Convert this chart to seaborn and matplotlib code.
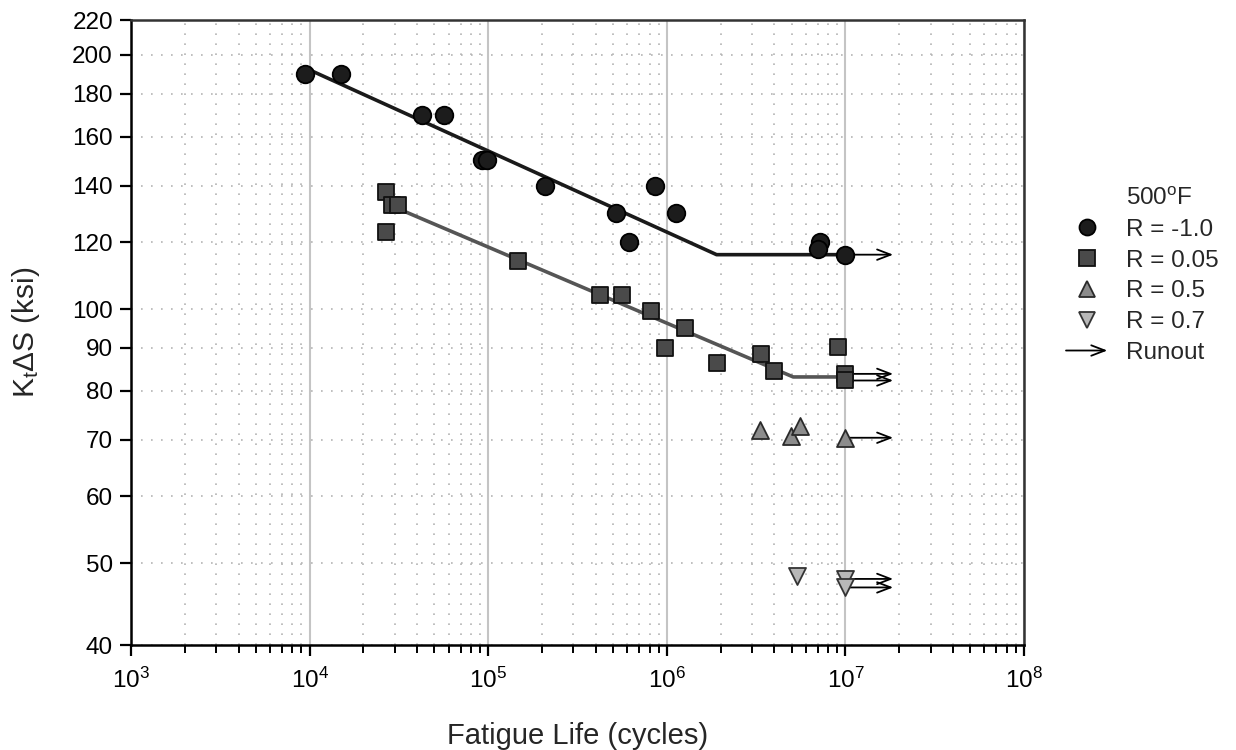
import numpy as np
import pandas as pd
import seaborn as sns
import matplotlib
matplotlib.use('Agg')
import matplotlib.pyplot as plt
from matplotlib.ticker import LogLocator, NullFormatter, NullLocator, FixedLocator, FixedFormatter
from matplotlib.lines import Line2D
from matplotlib.patches import FancyArrowPatch
from matplotlib.legend_handler import HandlerBase

# ---- data (cycles, K_t*dS in ksi, runout flag) ----
r_m10_cycles = [9.4e3, 1.49e4, 4.27e4, 5.66e4, 9.2e4, 9.9e4, 2.09e5, 5.22e5,
                6.14e5, 8.55e5, 1.13e6, 7.2e6, 7.0e6, 1.0e7]
r_m10_stress = [190, 190, 170, 170, 150, 150, 140, 130, 120, 140, 130, 120, 117.7, 116]
r_m10_runout = [0, 0, 0, 0, 0, 0, 0, 0, 0, 0, 0, 0, 0, 1]

r_005_cycles = [2.67e4, 2.88e4, 3.13e4, 2.68e4, 1.47e5, 4.23e5, 5.63e5, 8.13e5,
                1.26e6, 9.8e5, 1.92e6, 3.36e6, 4.0e6, 9.1e6, 1.0e7, 1.0e7]
r_005_stress = [137.8, 133, 133, 123.5, 114, 104, 104, 99.5, 95, 90, 86.4, 88.4,
                84.5, 90.2, 83.8, 82.3]
r_005_runout = [0, 0, 0, 0, 0, 0, 0, 0, 0, 0, 0, 0, 0, 0, 1, 1]

r_05_cycles = [3.31e6, 4.95e6, 5.6e6, 1.0e7]
r_05_stress = [72, 70.8, 72.6, 70.4]
r_05_runout = [0, 0, 0, 1]

r_07_cycles = [5.38e6, 1.0e7, 1.0e7]
r_07_stress = [48.3, 47.9, 46.8]
r_07_runout = [0, 1, 1]

# fitted curves (knots)
fit_m10_cycles = [1.0e4, 1.9e6, 1.0e7]
fit_m10_stress = [192, 116, 116]
fit_005_cycles = [3.0e4, 5.1e6, 1.0e7]
fit_005_stress = [132, 83.1, 83.1]

runout_end = 1.85e7

y_ticks = [40, 50, 60, 70, 80, 90, 100, 120, 140, 160, 180, 200, 220]

series = [
    ('R = -1.0', r_m10_cycles, r_m10_stress, r_m10_runout, 'o', '#1c1c1c', '#000000', 160),
    ('R = 0.05', r_005_cycles, r_005_stress, r_005_runout, 's', '#4a4a4a', '#111111', 120),
    ('R = 0.5', r_05_cycles, r_05_stress, r_05_runout, '^', '#8c8c8c', '#2a2a2a', 150),
    ('R = 0.7', r_07_cycles, r_07_stress, r_07_runout, 'v', '#b8b8b8', '#333333', 150),
]


class ArrowHandler(HandlerBase):
    def create_artists(self, legend, orig_handle, xdescent, ydescent,
                       width, height, fontsize, trans):
        yc = (height - ydescent) / 2
        arr = FancyArrowPatch((-xdescent, yc), (width - xdescent, yc),
                              arrowstyle='->,head_length=0.65,head_width=0.25',
                              mutation_scale=15, lw=1.3, color='black',
                              shrinkA=0, shrinkB=0, transform=trans)
        return [arr]


sns.set_style('ticks')
plt.rcParams['font.family'] = ['Liberation Sans', 'DejaVu Sans']
plt.rcParams['mathtext.default'] = 'regular'

fig, ax = plt.subplots(figsize=(12.36, 7.5), dpi=100)
fig.subplots_adjust(left=0.106, right=0.8285, top=0.9733, bottom=0.14)

ax.set_xscale('log')
ax.set_yscale('log')

# fit lines
sns.lineplot(x=fit_m10_cycles, y=fit_m10_stress, sort=False, color='#1a1a1a',
             lw=2.6, ax=ax, zorder=3)
sns.lineplot(x=fit_005_cycles, y=fit_005_stress, sort=False, color='#555555',
             lw=2.6, ax=ax, zorder=3)

handles = [Line2D([], [], linestyle='none', marker='none')]
labels = ['500$^{o}$F']
for label, cyc, st, ro, mk, fc, ec, sz in series:
    df = pd.DataFrame({'cycles': cyc, 'stress': st, 'runout': ro})
    for _, row in df[df.runout == 1].iterrows():
        ax.annotate('', xy=(runout_end, row.stress), xytext=(row.cycles, row.stress),
                    arrowprops=dict(arrowstyle='->,head_length=0.65,head_width=0.25',
                                    mutation_scale=15, lw=1.3, color='black',
                                    shrinkA=0, shrinkB=0),
                    zorder=2)
    sns.scatterplot(data=df, x='cycles', y='stress', marker=mk, s=sz, color=fc,
                    edgecolor=ec, linewidth=1.3, ax=ax, zorder=4, legend=False)
    handles.append(Line2D([], [], linestyle='none', marker=mk, markersize=11.5,
                          markerfacecolor=fc, markeredgecolor=ec, markeredgewidth=1.3))
    labels.append(label)
runout_handle = object()
handles.append(runout_handle)
labels.append('Runout')

ax.set_xlim(1e3, 1e8)
ax.set_ylim(40, 220)

ax.yaxis.set_major_locator(FixedLocator(y_ticks))
ax.yaxis.set_major_formatter(FixedFormatter([str(v) for v in y_ticks]))
ax.yaxis.set_minor_locator(NullLocator())
ax.xaxis.set_major_locator(LogLocator(base=10, numticks=20))
ax.xaxis.set_minor_locator(LogLocator(base=10, subs=np.arange(2, 10), numticks=100))
ax.xaxis.set_minor_formatter(NullFormatter())

ax.xaxis.grid(True, which='major', color='#c4c4c4', lw=1.5, ls='-')
ax.xaxis.grid(True, which='minor', color='#b4b4b4', lw=1.2, ls=(0, (1, 5)))
ax.yaxis.grid(True, which='major', color='#b4b4b4', lw=1.2, ls=(0, (1, 5)))
ax.set_axisbelow(True)

for side in ['left', 'bottom']:
    ax.spines[side].set_color('black')
    ax.spines[side].set_linewidth(1.8)
for side in ['top', 'right']:
    ax.spines[side].set_visible(True)
    ax.spines[side].set_color('#333333')
    ax.spines[side].set_linewidth(1.8)

ax.tick_params(axis='both', which='major', direction='out', length=8, width=1.6,
               labelsize=17.5, color='black', labelcolor='black')
ax.tick_params(axis='x', which='major', pad=8)
ax.tick_params(axis='y', which='major', pad=5)
ax.tick_params(axis='x', which='minor', direction='out', length=6, width=1.4, color='black')

ax.set_xlabel('Fatigue Life (cycles)', fontsize=21, labelpad=21)
ax.set_ylabel('K$_{t}$ΔS (ksi)', fontsize=21.5, labelpad=22)

fig.legend(handles, labels, handler_map={runout_handle: ArrowHandler()},
           loc='upper left', bbox_to_anchor=(1066 / 1236, 1 - 188 / 750),
           frameon=False, fontsize=17.5, handlelength=1.7, handletextpad=0.75,
           labelspacing=0.36, borderpad=0, borderaxespad=0)

plt.savefig('out.png', dpi=100)
